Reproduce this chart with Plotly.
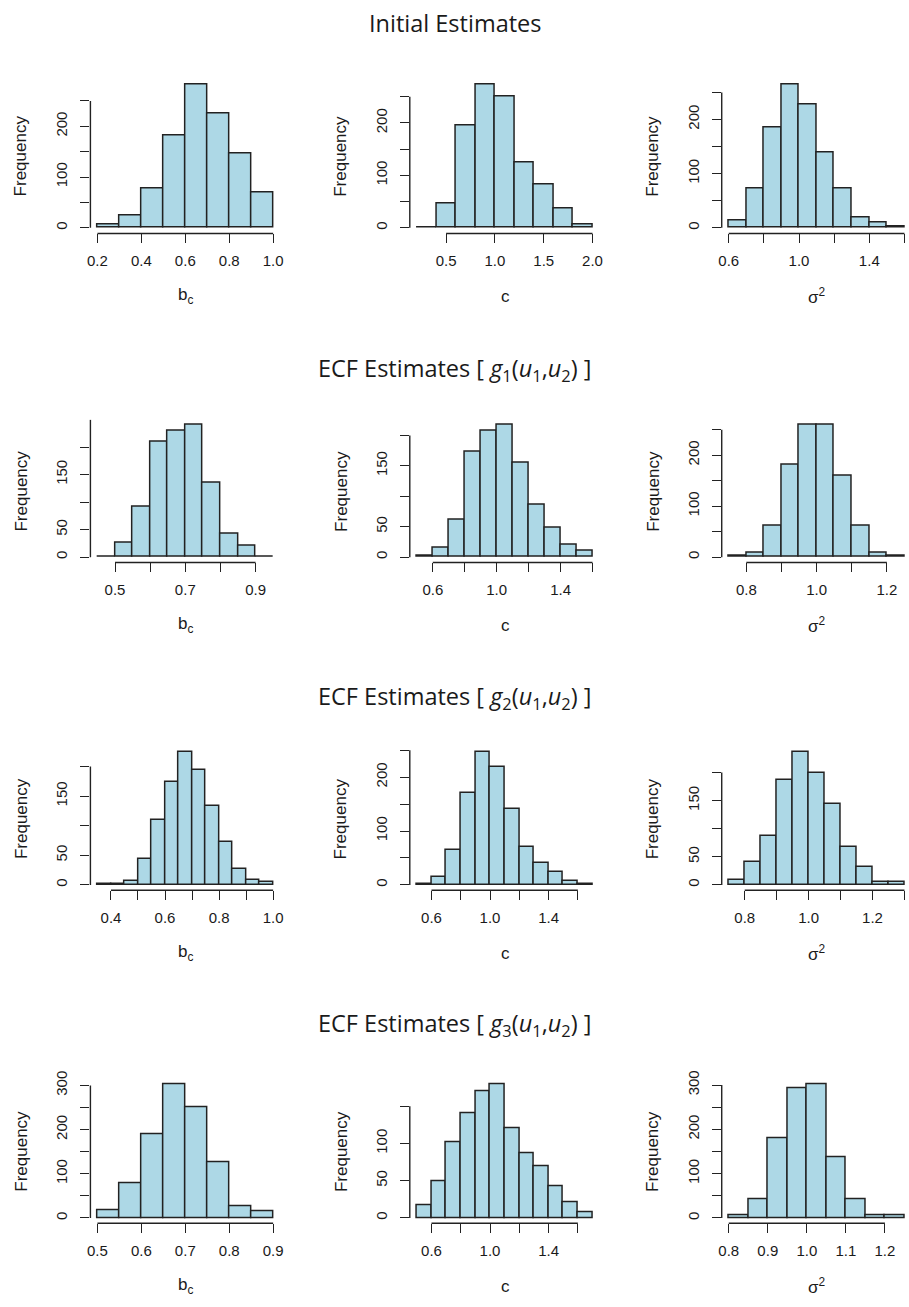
import plotly.graph_objects as go

W, H = 909, 1307

# ---------------- data ----------------
init_bc_edges = [0.2, 0.3, 0.4, 0.5, 0.6, 0.7, 0.8, 0.9, 1.0]
init_bc_counts = [7, 25, 78, 181, 283, 226, 147, 69]

init_c_edges = [0.2, 0.4, 0.6, 0.8, 1.0, 1.2, 1.4, 1.6, 1.8, 2.0]
init_c_counts = [1, 46, 196, 274, 250, 124, 82, 36, 7]

init_s2_edges = [0.6, 0.7, 0.8, 0.9, 1.0, 1.1, 1.2, 1.3, 1.4, 1.5, 1.6]
init_s2_counts = [13, 72, 186, 265, 227, 139, 72, 18, 10, 3]

g1_bc_edges = [0.45, 0.5, 0.55, 0.6, 0.65, 0.7, 0.75, 0.8, 0.85, 0.9, 0.95]
g1_bc_counts = [1, 26, 92, 210, 230, 240, 135, 43, 20, 1]

g1_c_edges = [0.5, 0.6, 0.7, 0.8, 0.9, 1.0, 1.1, 1.2, 1.3, 1.4, 1.5, 1.6]
g1_c_counts = [2, 15, 62, 173, 207, 217, 155, 86, 49, 21, 11]

g1_s2_edges = [0.75, 0.8, 0.85, 0.9, 0.95, 1.0, 1.05, 1.1, 1.15, 1.2, 1.25]
g1_s2_counts = [2, 8, 61, 182, 259, 259, 160, 61, 8, 2]

g2_bc_edges = [0.35, 0.4, 0.45, 0.5, 0.55, 0.6, 0.65, 0.7, 0.75, 0.8, 0.85, 0.9, 0.95, 1.0]
g2_bc_counts = [1, 1, 7, 43, 109, 174, 224, 194, 134, 72, 27, 8, 5]

g2_c_edges = [0.5, 0.6, 0.7, 0.8, 0.9, 1.0, 1.1, 1.2, 1.3, 1.4, 1.5, 1.6, 1.7]
g2_c_counts = [2, 14, 65, 170, 246, 218, 141, 71, 40, 23, 8, 2]

g2_s2_edges = [0.75, 0.8, 0.85, 0.9, 0.95, 1.0, 1.05, 1.1, 1.15, 1.2, 1.25, 1.3]
g2_s2_counts = [8, 41, 87, 186, 236, 200, 144, 67, 31, 5, 5]

g3_bc_edges = [0.5, 0.55, 0.6, 0.65, 0.7, 0.75, 0.8, 0.85, 0.9]
g3_bc_counts = [18, 79, 190, 302, 251, 125, 26, 14]

g3_c_edges = [0.5, 0.6, 0.7, 0.8, 0.9, 1.0, 1.1, 1.2, 1.3, 1.4, 1.5, 1.6, 1.7]
g3_c_counts = [17, 49, 102, 141, 170, 179, 121, 87, 70, 42, 21, 8]

g3_s2_edges = [0.8, 0.85, 0.9, 0.95, 1.0, 1.05, 1.1, 1.15, 1.2, 1.25]
g3_s2_counts = [7, 43, 179, 293, 301, 136, 43, 7, 7]

# tick values / labels
x_ticks_init_bc = [0.2, 0.4, 0.6, 0.8, 1.0]
x_labels_init_bc = ["0.2", "0.4", "0.6", "0.8", "1.0"]
x_ticks_init_c = [0.5, 1.0, 1.5, 2.0]
x_labels_init_c = ["0.5", "1.0", "1.5", "2.0"]
x_ticks_init_s2 = [0.6, 0.8, 1.0, 1.2, 1.4, 1.6]
x_labels_init_s2 = ["0.6", "", "1.0", "", "1.4", ""]
x_ticks_g1_bc = [0.5, 0.6, 0.7, 0.8, 0.9]
x_labels_g1_bc = ["0.5", "", "0.7", "", "0.9"]
x_ticks_c = [0.6, 0.8, 1.0, 1.2, 1.4, 1.6]
x_labels_c = ["0.6", "", "1.0", "", "1.4", ""]
x_ticks_g1_s2 = [0.8, 0.9, 1.0, 1.1, 1.2]
x_labels_g1_s2 = ["0.8", "", "1.0", "", "1.2"]
x_ticks_g2_bc = [0.4, 0.5, 0.6, 0.7, 0.8, 0.9, 1.0]
x_labels_g2_bc = ["0.4", "", "0.6", "", "0.8", "", "1.0"]
x_ticks_g2_s2 = [0.8, 0.9, 1.0, 1.1, 1.2, 1.3]
x_labels_g2_s2 = ["0.8", "", "1.0", "", "1.2", ""]
x_ticks_g3_bc = [0.5, 0.6, 0.7, 0.8, 0.9]
x_labels_g3_bc = ["0.5", "0.6", "0.7", "0.8", "0.9"]
x_ticks_g3_s2 = [0.8, 0.9, 1.0, 1.1, 1.2]
x_labels_g3_s2 = ["0.8", "0.9", "1.0", "1.1", "1.2"]

y_ticks_250 = [0, 50, 100, 150, 200, 250]
y_labels_250a = ["0", "", "100", "", "200", ""]
y_labels_250b = ["0", "50", "", "150", "", "250"]
y_ticks_200 = [0, 50, 100, 150, 200]
y_labels_200 = ["0", "50", "", "150", ""]
y_ticks_300 = [0, 50, 100, 150, 200, 250, 300]
y_labels_300 = ["0", "", "100", "", "200", "", "300"]
y_ticks_150 = [0, 50, 100, 150]
y_labels_150 = ["0", "50", "100", ""]

row_titles = [
    "Initial Estimates",
    "ECF Estimates [ <i>g</i><sub>1</sub>(<i>u</i><sub>1</sub>,<i>u</i><sub>2</sub>) ]",
    "ECF Estimates [ <i>g</i><sub>2</sub>(<i>u</i><sub>1</sub>,<i>u</i><sub>2</sub>) ]",
    "ECF Estimates [ <i>g</i><sub>3</sub>(<i>u</i><sub>1</sub>,<i>u</i><sub>2</sub>) ]",
]
x_titles = ["b<sub>c</sub>", "c", "σ<sup>2</sup>"]

panels = [
    (init_bc_edges, init_bc_counts, x_ticks_init_bc, x_labels_init_bc, y_ticks_250, y_labels_250a),
    (init_c_edges, init_c_counts, x_ticks_init_c, x_labels_init_c, y_ticks_250, y_labels_250a),
    (init_s2_edges, init_s2_counts, x_ticks_init_s2, x_labels_init_s2, y_ticks_250, y_labels_250a),
    (g1_bc_edges, g1_bc_counts, x_ticks_g1_bc, x_labels_g1_bc, y_ticks_250, y_labels_250b),
    (g1_c_edges, g1_c_counts, x_ticks_c, x_labels_c, y_ticks_200, y_labels_200),
    (g1_s2_edges, g1_s2_counts, x_ticks_g1_s2, x_labels_g1_s2, y_ticks_250, y_labels_250a),
    (g2_bc_edges, g2_bc_counts, x_ticks_g2_bc, x_labels_g2_bc, y_ticks_200, y_labels_200),
    (g2_c_edges, g2_c_counts, x_ticks_c, x_labels_c, y_ticks_250, y_labels_250a),
    (g2_s2_edges, g2_s2_counts, x_ticks_g2_s2, x_labels_g2_s2, y_ticks_200, y_labels_200),
    (g3_bc_edges, g3_bc_counts, x_ticks_g3_bc, x_labels_g3_bc, y_ticks_300, y_labels_300),
    (g3_c_edges, g3_c_counts, x_ticks_c, x_labels_c, y_ticks_150, y_labels_150),
    (g3_s2_edges, g3_s2_counts, x_ticks_g3_s2, x_labels_g3_s2, y_ticks_300, y_labels_300),
]

# ---------------- layout geometry (pixels) ----------------
COL_L = [88.0, 409.5, 723.5]
PW = 191.0
ROW_T = [70.0, 413.6, 743.2, 1077.7]
ROW_B = [226.0, 557.3, 887.3, 1222.7]
TITLE_Y = [14, 363, 693, 1023]

AX_COL = "#222222"
TXT_COL = "#1a1a1a"
FILL = "#ADD8E6"
SANS = "Liberation Sans, Arial, sans-serif"
TICK_FONT = dict(family=SANS, size=15, color=TXT_COL)
LAB_FONT = dict(family=SANS, size=17, color=TXT_COL)

fig = go.Figure()
shapes = []
annotations = []
layout = {}

for k, (edges, counts, xt, xl, yt, yl) in enumerate(panels):
    r, c = divmod(k, 3)
    sfx = "" if k == 0 else str(k + 1)
    xa, ya = "x" + sfx, "y" + sfx

    centers = [(edges[i] + edges[i + 1]) / 2 for i in range(len(counts))]
    widths = [edges[i + 1] - edges[i] for i in range(len(counts))]
    fig.add_trace(go.Bar(
        x=centers, y=counts, width=widths, xaxis=xa, yaxis=ya,
        marker=dict(color=FILL, line=dict(color=AX_COL, width=1.5)),
        showlegend=False, hoverinfo="x+y",
    ))

    lo, hi = edges[0], edges[-1]
    span = hi - lo
    px_per_unit = PW / (1.08 * span)
    xmin = lo - 0.04 * span
    left_px = COL_L[c]
    right_px = min(W, left_px + PW)
    xmax = xmin + (right_px - left_px) / px_per_unit
    M = max(counts)

    layout["xaxis" + sfx] = dict(
        domain=[left_px / W, right_px / W], range=[xmin, xmax], anchor=ya,
        tickvals=xt, ticktext=xl, ticks="outside", ticklen=9, tickwidth=1.4,
        tickcolor=AX_COL, showgrid=False, zeroline=False, showline=False,
        tickfont=TICK_FONT, ticklabelstandoff=5, fixedrange=True,
    )
    layout["yaxis" + sfx] = dict(
        domain=[1 - ROW_B[r] / H, 1 - ROW_T[r] / H], range=[-0.04 * M, 1.04 * M],
        anchor=xa, tickvals=yt, ticktext=yl, ticks="outside", ticklen=9,
        tickwidth=1.4, tickcolor=AX_COL, showgrid=False, zeroline=False,
        showline=False, tickangle=-90, tickfont=TICK_FONT, ticklabelstandoff=7,
        fixedrange=True,
    )

    # R-style detached axis lines spanning first..last tick
    shapes.append(dict(type="line", xref=xa, yref=ya + " domain",
                       x0=xt[0], x1=xt[-1], y0=0, y1=0,
                       line=dict(color=AX_COL, width=1.4)))
    shapes.append(dict(type="line", xref=xa + " domain", yref=ya,
                       x0=0, x1=0, y0=yt[0], y1=yt[-1],
                       line=dict(color=AX_COL, width=1.4)))

    annotations.append(dict(text="Frequency", xref=xa + " domain", yref=ya + " domain",
                            x=0, y=0.5, xshift=-69, textangle=-90, showarrow=False,
                            xanchor="center", yanchor="middle", font=LAB_FONT))
    annotations.append(dict(text=x_titles[c], xref=xa + " domain", yref=ya + " domain",
                            x=0, y=0, xshift=PW / 2, yshift=-63, showarrow=False,
                            xanchor="center", yanchor="middle", font=LAB_FONT))

for r, t in enumerate(row_titles):
    annotations.append(dict(text=t, xref="paper", yref="paper", x=0.5, y=1 - TITLE_Y[r] / H,
                            showarrow=False, xanchor="center", yanchor="middle",
                            font=dict(family="Open Sans, Noto Sans, sans-serif", size=23.5,
                                      color="#1a1a1a")))

fig.update_layout(
    width=W, height=H, margin=dict(l=0, r=0, t=0, b=0),
    paper_bgcolor="white", plot_bgcolor="white",
    shapes=shapes, annotations=annotations, bargap=0, **layout,
)

fig.write_html("out.html",
               config={"displayModeBar": False},
               post_script="document.body.style.margin='0';document.body.style.padding='0';")
